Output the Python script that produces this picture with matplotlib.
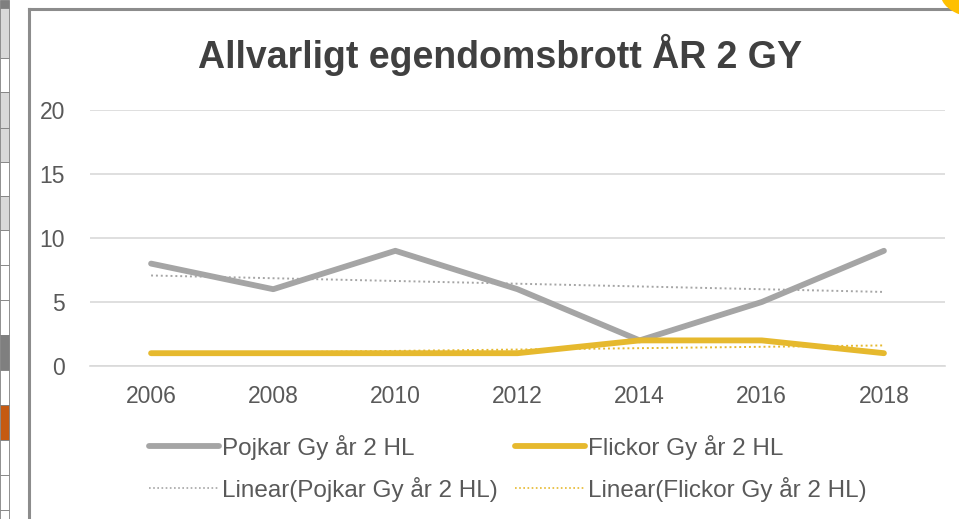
import numpy as np
import matplotlib
matplotlib.use("Agg")
import matplotlib.pyplot as plt
from matplotlib.patches import Rectangle, Circle
from matplotlib.lines import Line2D

years = ["2006", "2008", "2010", "2012", "2014", "2016", "2018"]
pojkar = [8, 6, 9, 6, 2, 5, 9]
flickor = [1, 1, 1, 1, 2, 2, 1]
yticks = [0, 5, 10, 15, 20]
title = "Allvarligt egendomsbrott ÅR 2 GY"
names = ["Pojkar Gy år 2 HL", "Flickor Gy år 2 HL",
         "Linear(Pojkar Gy år 2 HL)", "Linear(Flickor Gy år 2 HL)"]

plt.rcParams['font.family'] = ['Liberation Sans', 'DejaVu Sans']

W, H = 959, 519
fig = plt.figure(figsize=(W / 100, H / 100), dpi=100)

def fx(px):
    return px / W

def fy(py):
    return 1 - py / H

# chart frame (screenshot context)
fig.lines.append(Line2D([fx(29), fx(29)], [0, fy(9)], transform=fig.transFigure,
                        color='#8c8c8c', lw=2.2, zorder=-1))
fig.lines.append(Line2D([fx(29), 1], [fy(9), fy(9)], transform=fig.transFigure,
                        color='#8c8c8c', lw=2.2, zorder=-1))
# spreadsheet fragments at left edge
cells = [(0, 8, '#7f7f7f'), (8, 58, '#d9d9d9'), (58, 92, '#ffffff'), (92, 128, '#d9d9d9'),
         (128, 162, '#d9d9d9'), (162, 196, '#ffffff'), (196, 230, '#d9d9d9'),
         (230, 265, '#ffffff'), (265, 300, '#ffffff'), (300, 335, '#ffffff'),
         (335, 370, '#7f7f7f'), (370, 405, '#ffffff'), (405, 440, '#c55a11'),
         (440, 475, '#ffffff'), (475, 510, '#ffffff'), (510, 519, '#ffffff')]
for y0, y1, c in cells:
    fig.patches.append(Rectangle((0, fy(y1)), fx(9), fy(y0) - fy(y1), transform=fig.transFigure,
                                 facecolor=c, edgecolor='#7f7f7f', lw=0.6, zorder=-1))
fig.patches.append(Circle((fx(985), fy(-5)), 44 / W, transform=fig.transFigure,
                          facecolor='#ffc000', edgecolor='none', zorder=-1))

ax = fig.add_axes([fx(90), fy(366), fx(945) - fx(90), fy(110) - fy(366)])
ax.set_facecolor('none')
ax.set_zorder(2)
x = np.arange(len(years))

ax.plot(x, pojkar, color='#a5a5a5', lw=4.2, solid_capstyle='round', zorder=3)
ax.plot(x, flickor, color='#e6b92e', lw=4.2, solid_capstyle='round', zorder=3)

p1 = np.polyfit(x, pojkar, 1)
p2 = np.polyfit(x, flickor, 1)
ax.plot(x, np.polyval(p1, x), color='#a5a5a5', lw=1.4, ls=(0, (1, 1.5)), zorder=2)
ax.plot(x, np.polyval(p2, x), color='#e6b92e', lw=1.4, ls=(0, (1, 1.5)), zorder=4)

ax.set_xlim(-0.5, len(years) - 0.5)
ax.set_ylim(0, 20)
ax.set_yticks(yticks)
ax.set_xticks(x)
ax.set_xticklabels(years)
ax.yaxis.grid(True, color='#d9d9d9', lw=1.2)
ax.set_axisbelow(True)
for s in ax.spines.values():
    s.set_visible(False)
ax.spines['bottom'].set_visible(True)
ax.spines['bottom'].set_color('#d9d9d9')
ax.spines['bottom'].set_linewidth(1.2)
ax.tick_params(axis='both', length=0, labelsize=16.5, colors='#595959')
ax.tick_params(axis='y', pad=18)
ax.tick_params(axis='x', pad=14)

fig.text(fx(500), fy(55), title, ha='center', va='center', fontsize=27,
         fontweight='bold', color='#404040')

# legend
leg = [(149, 446, '#a5a5a5', '-', 4.2, names[0]),
       (515, 446, '#e6b92e', '-', 4.2, names[1]),
       (149, 488, '#a5a5a5', (0, (1, 1.5)), 1.2, names[2]),
       (515, 488, '#e6b92e', (0, (1, 1.5)), 1.2, names[3])]
for lx, ly, c, ls, lw, t in leg:
    fig.lines.append(Line2D([fx(lx), fx(lx + 70)], [fy(ly), fy(ly)], transform=fig.transFigure,
                            color=c, ls=ls, lw=lw, solid_capstyle='round'))
    fig.text(fx(lx + 73), fy(ly + 1), t, ha='left', va='center', fontsize=17.5, color='#595959')

fig.savefig("out.png", dpi=100)
